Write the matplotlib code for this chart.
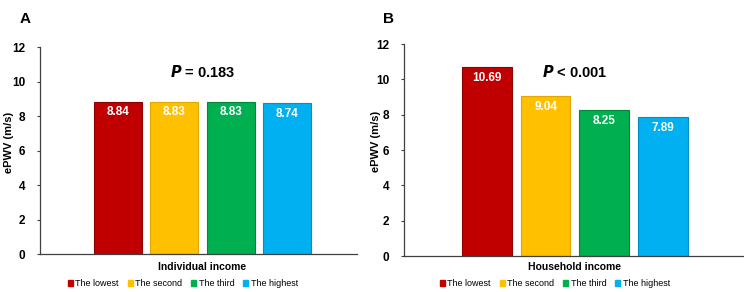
import numpy as np
import matplotlib.pyplot as plt
from matplotlib.patches import Patch

plt.rcParams['font.family'] = ['Liberation Sans', 'DejaVu Sans']

groups = ['The lowest', 'The second', 'The third', 'The highest']
individual = [8.84, 8.83, 8.83, 8.74]
household = [10.69, 9.04, 8.25, 7.89]
colors = ['#C00000', '#FFC000', '#00B050', '#00B0F0']
edges = ['#8B0000', '#E0A800', '#00873C', '#0090C8']

fig = plt.figure(figsize=(7.44, 2.92), dpi=100)
axA = fig.add_axes([0.0538, 0.130, 0.426, 0.709])
axB = fig.add_axes([0.543, 0.123, 0.457, 0.726])


def panel(ax, vals, xlabel, ptext, py, xlim, letter, letter_x, lx, ylx, xly):
    x = np.arange(len(vals))
    ax.bar(x, vals, width=0.85, color=colors, edgecolor=edges, linewidth=0.8)
    for xi, v in zip(x, vals):
        ax.text(xi, v - 0.62, f'{v:.2f}', ha='center', va='center', color='white',
                fontsize=8.5, fontweight='bold')
    ax.set_xlim(*xlim)
    ax.set_ylim(0, 12)
    ax.set_yticks(range(0, 13, 2))
    ax.set_xticks([])
    for s in ['top', 'right']:
        ax.spines[s].set_visible(False)
    for s in ['left', 'bottom']:
        ax.spines[s].set_color('#404040')
        ax.spines[s].set_linewidth(0.9)
    ax.tick_params(axis='y', labelsize=8.5, length=2.5, color='#404040', pad=8)
    for t in ax.get_yticklabels():
        t.set_fontweight('bold')
    ax.set_ylabel('ePWV (m/s)', fontsize=8, fontweight='bold')
    ax.yaxis.set_label_coords(ylx, 0.54)
    ax.set_xlabel(xlabel, fontsize=7.5, fontweight='bold')
    gx = (1.5 - xlim[0]) / (xlim[1] - xlim[0])
    ax.xaxis.set_label_coords(gx, xly)
    ax.text(1.5, py, ptext, ha='center', va='center', fontsize=10.5, fontweight='bold')
    fig.text(letter_x, 0.96, letter, fontsize=11, fontweight='bold', va='top')
    handles = [Patch(facecolor=c, edgecolor=c) for c in colors]
    fig.legend(handles, groups, loc='center', bbox_to_anchor=(lx, 0.028), ncol=4,
               frameon=False, fontsize=6.5, handlelength=0.55, handleheight=0.55,
               handletextpad=0.25, columnspacing=1.0, borderpad=0)


panel(axA, individual, 'Individual income', r'$\bfit{P}$ = 0.183', 10.55,
      (-1.385, 4.245), 'A', 0.026, 0.246, -0.082, -0.038)
panel(axB, household, 'Household income', r'$\bfit{P}$ < 0.001', 10.4,
      (-1.42, 4.39), 'B', 0.515, 0.746, -0.068, -0.028)

fig.savefig('out.png', dpi=100)
